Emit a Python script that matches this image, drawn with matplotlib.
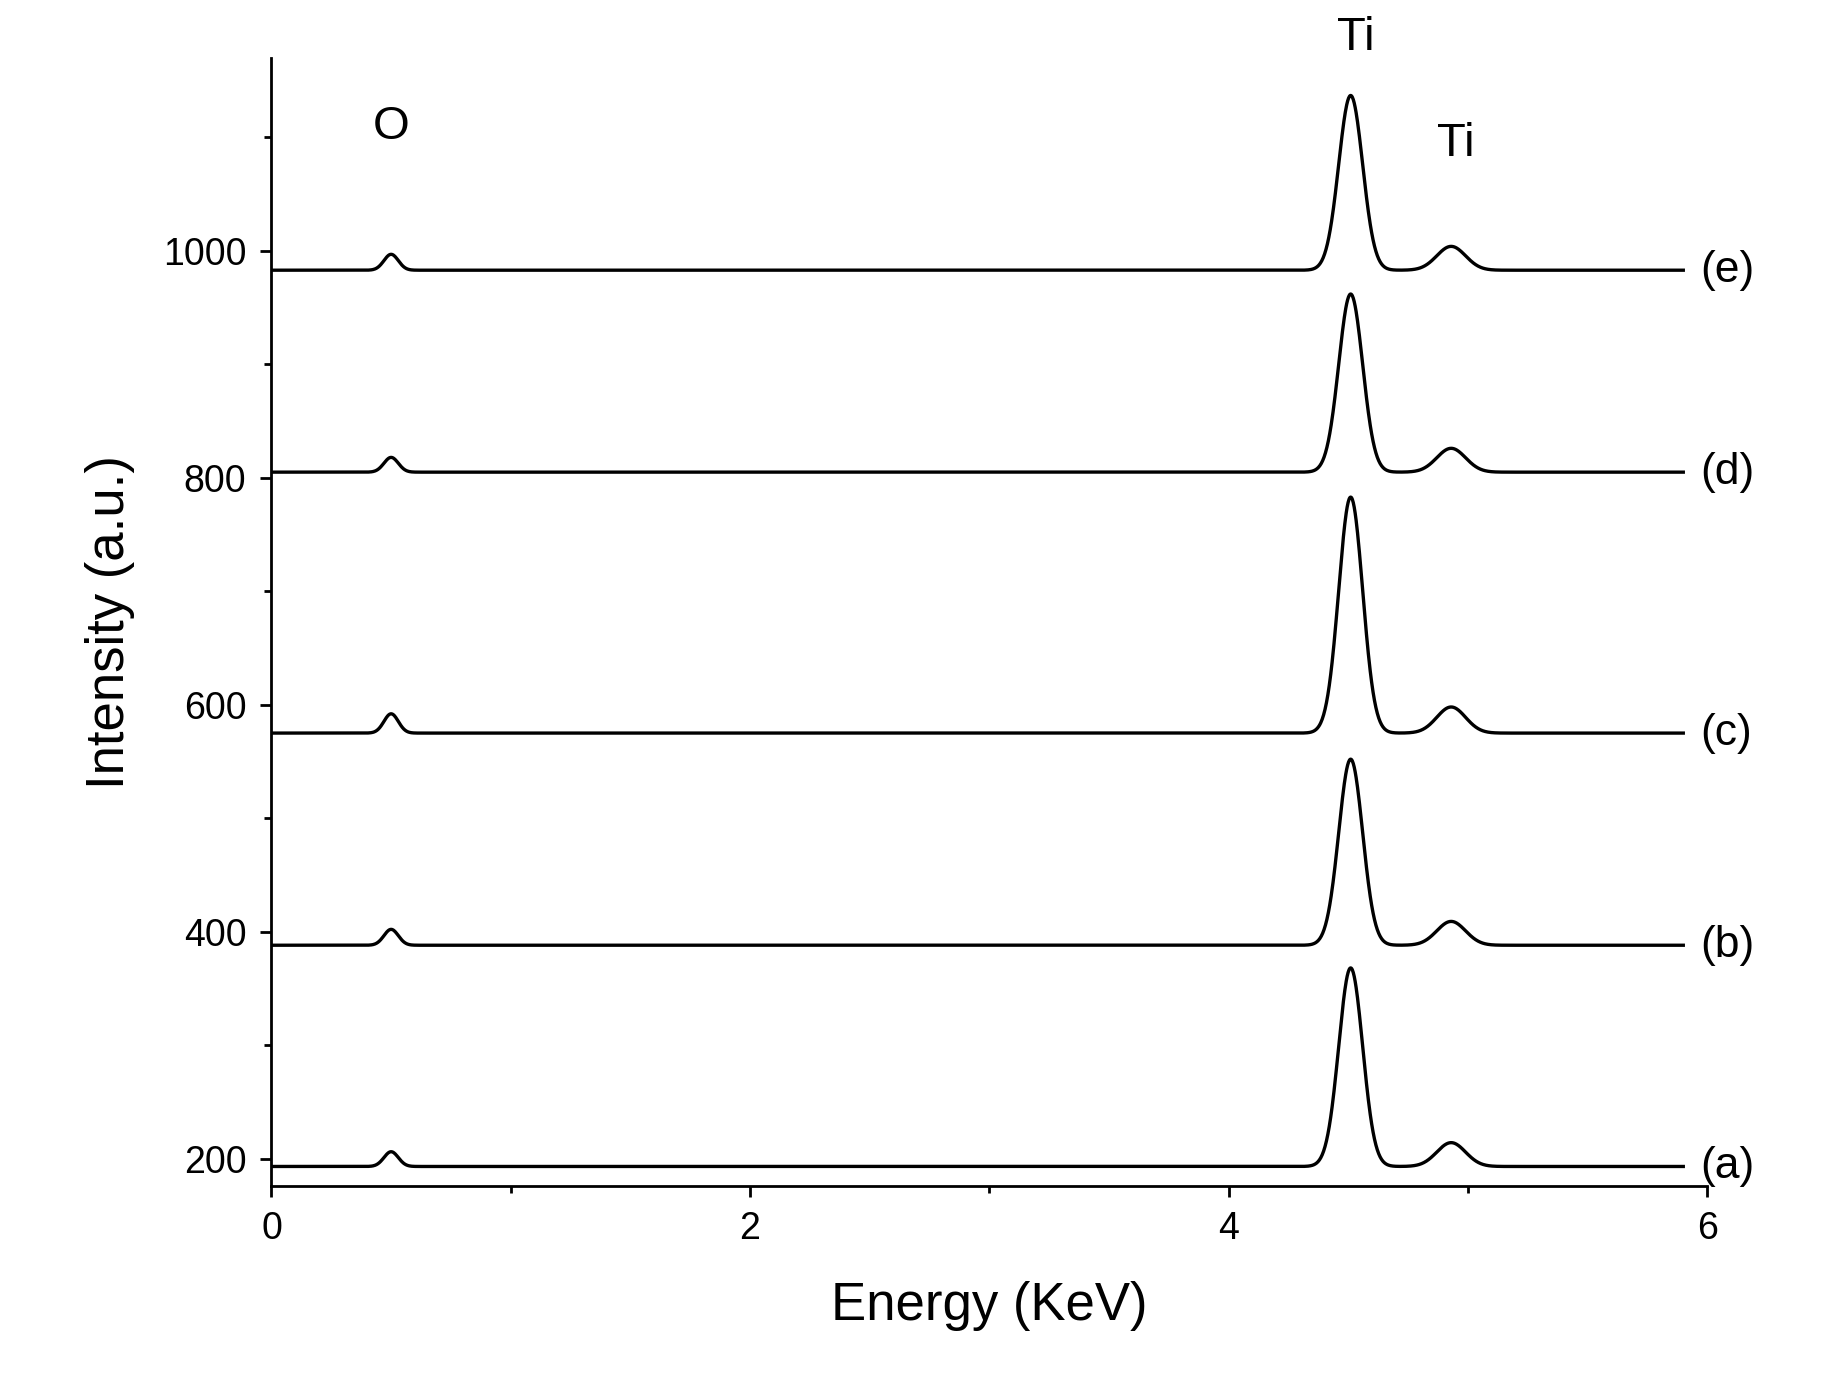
import numpy as np
import matplotlib
matplotlib.use("Agg")
import matplotlib.pyplot as plt
plt.rcParams['font.family'] = ['Liberation Sans', 'DejaVu Sans']

labels = ["(a)", "(b)", "(c)", "(d)", "(e)"]
baselines = [193, 388, 575, 805, 983]
ti_main = [368, 552, 783, 962, 1137]   # peak top values
ti_minor = [214, 409, 598, 826, 1004]
o_peak = [206, 402, 592, 818, 997]
peak_pos = [0.50, 4.51, 4.93]
peak_sig = [0.03, 0.05, 0.06]

fig = plt.figure(figsize=(18.22, 13.82), dpi=100)
ax = fig.add_axes([0.149, 0.142, 0.788, 0.816])
x = np.linspace(0, 5.9, 3000)
for b, m, mn, o, lab in zip(baselines, ti_main, ti_minor, o_peak, labels):
    y = np.full_like(x, float(b))
    for p, s, h in zip(peak_pos, peak_sig, [o - b, m - b, mn - b]):
        y += h * np.exp(-0.5 * ((x - p) / s) ** 2)
    ax.plot(x, y, color="black", lw=2.4)
    ax.text(5.97, b, lab, fontsize=32, va="center", ha="left", clip_on=False)

ax.text(0.5, 1090, "O", fontsize=34, ha="center", va="bottom")
ax.text(4.53, 1168, "Ti", fontsize=34, ha="center", va="bottom")
ax.text(4.95, 1075, "Ti", fontsize=34, ha="center", va="bottom")

ax.set_xlim(0, 6)
ax.set_ylim(176, 1170)
ax.set_xticks([0, 2, 4, 6])
ax.set_xticks([1, 3, 5], minor=True)
ax.set_yticks([200, 400, 600, 800, 1000])
ax.set_yticks([300, 500, 700, 900, 1100], minor=True)
ax.tick_params(labelsize=27, width=2, length=8, pad=10)
ax.tick_params(which="minor", width=2, length=5)
for s in ["top", "right"]:
    ax.spines[s].set_visible(False)
for s in ["left", "bottom"]:
    ax.spines[s].set_linewidth(2)
ax.set_xlabel("Energy (KeV)", fontsize=38, labelpad=25)
ax.set_ylabel("Intensity (a.u.)", fontsize=38, labelpad=20)
fig.savefig("out.png")
